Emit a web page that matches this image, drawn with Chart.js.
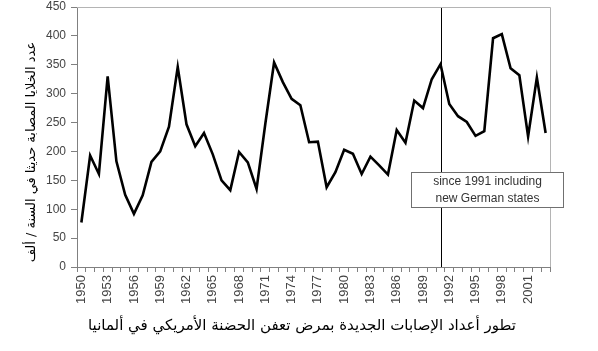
<!DOCTYPE html>
<html>
<head>
<meta charset="utf-8">
<script src="https://cdn.jsdelivr.net/npm/chart.js@4.4.0/dist/chart.umd.min.js"></script>
<style>
  body { margin: 0; background: #fff; }
  #wrap { width: 598px; height: 351px; }
</style>
</head>
<body>
<div id="wrap"><canvas id="foulbroodChart" width="598" height="351"></canvas></div>
<script>
// yearly new cases
const years = ['1950','1951','1952','1953','1954','1955','1956','1957','1958','1959',
  '1960','1961','1962','1963','1964','1965','1966','1967','1968','1969',
  '1970','1971','1972','1973','1974','1975','1976','1977','1978','1979',
  '1980','1981','1982','1983','1984','1985','1986','1987','1988','1989',
  '1990','1991','1992','1993','1994','1995','1996','1997','1998','1999',
  '2000','2001','2002','2003'];
const newCases = [77, 193, 161, 330, 183, 125, 92, 124, 182, 200,
  243, 346, 247, 209, 232, 195, 150, 133, 199, 181,
  135, 248, 354, 320, 291, 280, 216, 217, 138, 164,
  203, 196, 161, 191, 176, 160, 237, 215, 288, 275,
  325, 351, 282, 261, 251, 227, 235, 396, 403, 344,
  332, 226, 328, 232];
const shownYears = ['1950','1953','1956','1959','1962','1965','1968','1971','1974',
  '1977','1980','1983','1986','1989','1992','1995','1998','2001'];
const markerYear = '1991';
const noteLines = ['since 1991 including', 'new German states'];
const yTitle = 'عدد الخلايا المصابة حديثا في السنة / ألف';
const xTitle = 'تطور أعداد الإصابات الجديدة بمرض تعفن الحضنة الأمريكي في ألمانيا';

const extras = {
  id: 'extras',
  beforeDatasetsDraw(chart) {
    const { ctx, chartArea: a } = chart;
    const x = chart.scales.x.getPixelForValue(years.indexOf(markerYear));
    ctx.save();
    ctx.strokeStyle = '#000';
    ctx.lineWidth = 1;
    ctx.beginPath();
    ctx.moveTo(Math.round(x) + 0.5, a.top);
    ctx.lineTo(Math.round(x) + 0.5, a.bottom);
    ctx.stroke();
    // top and right frame
    ctx.strokeStyle = '#b4b4b4';
    ctx.beginPath();
    ctx.moveTo(a.left, a.top + 0.5);
    ctx.lineTo(a.right + 0.5, a.top + 0.5);
    ctx.lineTo(a.right + 0.5, a.bottom);
    ctx.stroke();
    ctx.restore();
  },
  afterDraw(chart) {
    const { ctx } = chart;
    const xs = chart.scales.x, ys = chart.scales.y;
    const x = xs.getPixelForValue(years.indexOf(markerYear));
    const left = Math.round(x) - 29.5;
    const top = Math.round(ys.getPixelForValue(164)) + 0.5;
    const w = 152, h = 35;
    ctx.save();
    ctx.fillStyle = '#fff';
    ctx.fillRect(left, top, w, h);
    ctx.strokeStyle = '#707070';
    ctx.lineWidth = 1;
    ctx.strokeRect(left, top, w, h);
    ctx.fillStyle = '#333';
    ctx.font = '12px "Liberation Sans", Arial, sans-serif';
    ctx.textAlign = 'center';
    ctx.textBaseline = 'middle';
    ctx.fillText(noteLines[0], left + w / 2, top + 9);
    ctx.fillText(noteLines[1], left + w / 2, top + 26);

    // axis titles
    ctx.fillStyle = '#000';
    ctx.direction = 'rtl';
    ctx.font = '15px "DejaVu Sans", sans-serif';
    ctx.fillText(xTitle, 302, 326);
    ctx.font = '13px "DejaVu Sans", sans-serif';
    ctx.translate(32, 152);
    ctx.rotate(-Math.PI / 2);
    ctx.fillText(yTitle, 0, 0);
    ctx.restore();
  }
};

new Chart(document.getElementById('foulbroodChart'), {
  type: 'line',
  data: {
    labels: years,
    datasets: [{
      data: newCases,
      borderColor: '#000',
      borderWidth: 2.6,
      pointRadius: 0,
      tension: 0,
      fill: false
    }]
  },
  options: {
    responsive: false,
    animation: false,
    layout: { padding: { top: 7, right: 48, left: 0, bottom: 0 } },
    plugins: { legend: { display: false }, tooltip: { enabled: false } },
    scales: {
      x: {
        offset: true,
        afterFit(s) { s.height = 84; s.paddingLeft = 0; s.paddingRight = 0; },
        grid: { offset: true, drawOnChartArea: false, color: '#808080', tickLength: 5 },
        border: { color: '#808080' },
        ticks: {
          autoSkip: false,
          minRotation: 90,
          maxRotation: 90,
          padding: 3,
          color: '#444',
          font: { family: '"Liberation Sans", Arial, sans-serif', size: 13 },
          callback(v) { const y = years[v]; return shownYears.includes(y) ? y : ''; }
        }
      },
      y: {
        min: 0,
        max: 450,
        afterFit(s) { s.width = 77; s.paddingTop = 0; s.paddingBottom = 0; },
        grid: { drawOnChartArea: false, color: '#808080', tickLength: 6 },
        border: { color: '#808080' },
        ticks: {
          stepSize: 50,
          padding: 5,
          color: '#444',
          font: { family: '"Liberation Sans", Arial, sans-serif', size: 12 }
        }
      }
    }
  },
  plugins: [extras]
});
</script>
</body>
</html>
